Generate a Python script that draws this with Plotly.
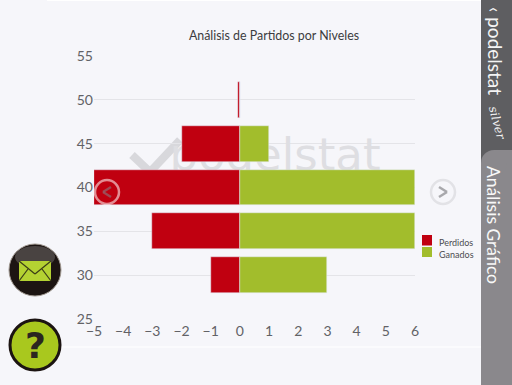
import plotly.graph_objects as go

W, H = 512, 385
levels = [50, 45, 40, 35, 30]
perdidos = [-0.07, -2, -5, -3, -1]
ganados = [0, 1, 6, 6, 3]
x_ticks = [-5, -4, -3, -2, -1, 0, 1, 2, 3, 4, 5, 6]
y_ticks = [25, 30, 35, 40, 45, 50, 55]
title = "Análisis de Partidos por Niveles"
series_names = ["Perdidos", "Ganados"]
RED, GREEN = "#c00010", "#a2bd2c"
BG = "#f6f6fa"
TICK = "#626266"
FONT = "Lato"

def px(x): return x / W
def py(y): return 1 - y / H

def rect(x0, y0, x1, y1, fill, layer="below"):
    return dict(type="rect", xref="paper", yref="paper", x0=px(x0), x1=px(x1), y0=py(y0), y1=py(y1),
                fillcolor=fill, line_width=0, layer=layer)

def circle(cx, cy, r, fill, line="rgba(0,0,0,0)", lw=0, layer="above", ry=None):
    ry = r if ry is None else ry
    return dict(type="circle", xref="paper", yref="paper", x0=px(cx - r), x1=px(cx + r), y0=py(cy - ry), y1=py(cy + ry),
                fillcolor=fill, line=dict(color=line, width=lw), layer=layer)

def seg(pts, color, lw, layer="above"):
    out = []
    for a, b in zip(pts, pts[1:]):
        out.append(dict(type="line", xref="paper", yref="paper", x0=px(a[0]), y0=py(a[1]), x1=px(b[0]), y1=py(b[1]),
                        line=dict(color=color, width=lw), layer=layer))
    return out

fig = go.Figure()
# Watermark sits on an axis pair underneath the chart axes so the bars cover it.
fig.add_trace(go.Scatter(x=[275], y=[159], mode="text", text=["podelstat"], xaxis="x2", yaxis="y2",
                         textfont=dict(family="DejaVu Sans", size=45, color="#dedee2"), showlegend=False, hoverinfo="skip"))
fig.add_trace(go.Bar(y=levels, x=perdidos, name=series_names[0], orientation="h", marker_color=RED, width=4.1, showlegend=False))
fig.add_trace(go.Bar(y=levels, x=ganados, name=series_names[1], orientation="h", marker_color=GREEN, width=4.1, showlegend=False))

shapes = [rect(481, 0, 512, 150, "#5e5e61"), rect(481, 150, 512, 385, "#8a888c"),
          rect(481, 150, 494, 163, "#5e5e61"), circle(494, 163, 13, "#8a888c", layer="below"),
          rect(494, 150, 512, 163, "#8a888c"),
          rect(60, 346.5, 481, 347.5, "#ffffff"), rect(47, 0, 481, 1, "#ffffff")]
shapes += seg([(132, 155), (150, 172), (180, 140)], "#d8d8dc", 8, layer="below")
shapes += [circle(107, 192, 12, "rgba(0,0,0,0)", "rgba(255,255,255,0.55)", 2.5),
           circle(443, 192, 12, "rgba(0,0,0,0)", "#e2e2e6", 2.5)]
shapes += seg([(111, 187), (103, 192), (111, 197)], "rgba(150,90,100,0.8)", 2.5)
shapes += seg([(439, 187), (447, 192), (439, 197)], "#a8a8ac", 2.5)
# Legend keys
shapes += [rect(422, 235, 432, 245.5, RED, layer="above"), rect(422, 247, 432, 257, GREEN, layer="above")]
# Mail button
shapes += [circle(35, 270, 26, "#1c1412", "#a09890", 1), circle(35, 257, 20, "rgba(255,255,255,0.2)", ry=11),
           rect(19, 261, 51, 281, "#b4d232", layer="above")]
shapes += seg([(19, 261), (35, 274), (51, 261)], "#3a3c18", 1.2)
shapes += seg([(19, 281), (28, 269)], "#3a3c18", 1.2) + seg([(51, 281), (42, 269)], "#3a3c18", 1.2)
# Help button
shapes += [circle(35, 345, 25, "#a9c81e", "#1c1412", 3)]

annotations = [
    dict(text="<b>?</b>", x=px(35), y=py(345), font=dict(family="DejaVu Sans", size=36, color="#2b2620")),
    dict(text="‹ podelstat", x=px(495), y=py(51), textangle=90, font=dict(family=FONT, size=19, color="#f4f4f4")),
    dict(text="<i>silver</i>", x=px(497), y=py(123), textangle=75, font=dict(family="DejaVu Serif", size=12, color="#f0f0f0")),
    dict(text="Análisis Gráfico", x=px(494), y=py(225), textangle=90, font=dict(family=FONT, size=17.5, color="#f8f8f8")),
    dict(text=series_names[0], x=px(437), y=py(242), xanchor="left", font=dict(family=FONT, size=9, color="#4c4c50")),
    dict(text=series_names[1], x=px(437), y=py(254), xanchor="left", font=dict(family=FONT, size=9, color="#4c4c50")),
]
for a in annotations:
    a.setdefault("xanchor", "center")
    a.update(xref="paper", yref="paper", yanchor="middle", showarrow=False)

fig.update_layout(
    width=W, height=H, margin=dict(l=0, r=0, t=0, b=0), autosize=False, showlegend=False,
    paper_bgcolor=BG, plot_bgcolor="rgba(0,0,0,0)", barmode="relative", bargap=0,
    font=dict(family=FONT, color=TICK),
    title=dict(text=title, x=274 / W, xanchor="center", y=py(36), yanchor="middle",
               font=dict(family=FONT, size=12.4, color="#3c3c40")),
    xaxis=dict(range=[-5, 6], tickvals=x_ticks, showgrid=False, zeroline=False, tickangle=0,
               showline=False, tickfont=dict(size=14, color=TICK), anchor="y", overlaying="x2", ticks="",
               tickformat="d", automargin=False, ticklabelstandoff=2),
    yaxis=dict(range=[25, 55], tickvals=y_ticks, gridcolor="#e4e4e8", gridwidth=1,
               zeroline=False, showline=False, tickfont=dict(size=14, color=TICK), anchor="x", overlaying="y2",
               ticks="", automargin=False),
    xaxis2=dict(domain=[px(94), px(415)], range=[94, 415], visible=False, anchor="y2"),
    yaxis2=dict(domain=[py(319), py(56)], range=[319, 56], visible=False, anchor="x2"),
    shapes=shapes, annotations=annotations,
)
fig.write_html("out.html", config={"displayModeBar": False},
               post_script="document.body.style.margin='0';document.body.style.overflow='hidden';")
